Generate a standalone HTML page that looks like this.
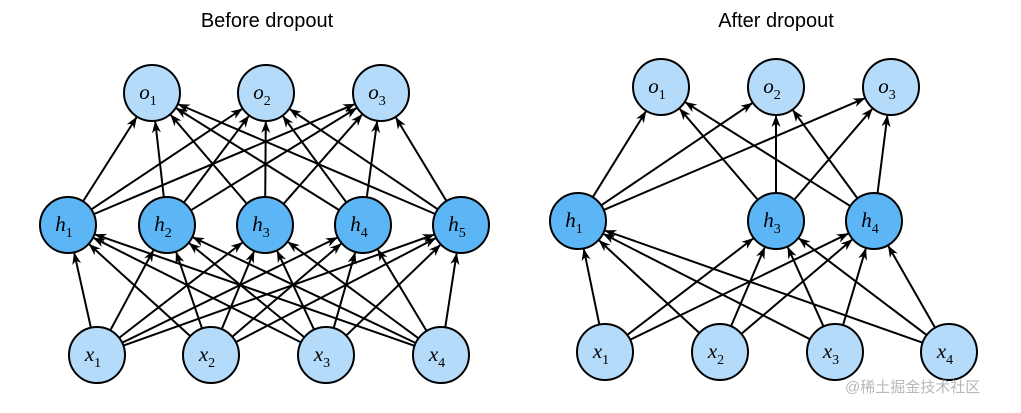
<!DOCTYPE html>
<html><head><meta charset="utf-8"><style>
html,body{margin:0;padding:0;background:#fff;}
svg{display:block;}
text{font-family:"Liberation Serif",serif;font-style:italic;}
.t{font-family:"Liberation Sans",sans-serif;font-style:normal;font-size:20px;}
</style></head><body>
<svg id="s" width="1021" height="413" xmlns="http://www.w3.org/2000/svg">
<defs><marker id="a" markerWidth="12" markerHeight="10" refX="11" refY="5" orient="auto" markerUnits="userSpaceOnUse"><path d="M0,0.5 L12,5 L0,9.5 L3.5,5 z" fill="#000"/></marker></defs>
<text class="t" x="267" y="27" text-anchor="middle">Before dropout</text>
<text class="t" x="776" y="27" text-anchor="middle">After dropout</text>
<g id="e"></g><g id="n"></g>
<text x="845" y="392" style="font-family:'Liberation Sans','Noto Sans CJK SC',sans-serif;font-style:normal;font-size:15px" fill="#b8b8b8">@稀土掘金技术社区</text>
</svg>
<script>
var R=28,NS="http://www.w3.org/2000/svg";
var e=document.getElementById('e'),n=document.getElementById('n');
function el(t,a,p){var x=document.createElementNS(NS,t);for(var k in a)x.setAttribute(k,a[k]);p.appendChild(x);return x;}
function arrow(a,b){var dx=b[0]-a[0],dy=b[1]-a[1],d=Math.hypot(dx,dy),ux=dx/d,uy=dy/d;
el('line',{x1:a[0]+ux*R,y1:a[1]+uy*R,x2:b[0]-ux*(R+1),y2:b[1]-uy*(R+1),stroke:'#000','stroke-width':2,'marker-end':'url(#a)'},e);}
function node(p,l,s,f){el('circle',{cx:p[0],cy:p[1],r:R,fill:f,stroke:'#000','stroke-width':2},n);
var t=el('text',{x:p[0]-4,y:p[1]+6,'text-anchor':'middle','font-size':21},n);t.textContent=l;
var u=el('tspan',{dy:6,'font-size':14,'font-style':'normal'},t);u.textContent=s;}
var L='#b5dbfa',H='#5cb5f4';
function draw(X,Hs,O,hl){
X.forEach(function(x){Hs.forEach(function(h){arrow(x,h);});});
Hs.forEach(function(h){O.forEach(function(o){arrow(h,o);});});
X.forEach(function(p,i){node(p,'x',i+1,L);});
Hs.forEach(function(p,i){node(p,'h',hl[i],H);});
O.forEach(function(p,i){node(p,'o',i+1,L);});}
draw([[97,355],[211,355],[326,355],[441,355]],[[68,225],[167,225],[265,225],[363,225],[461,225]],[[152,93],[266,93],[381,93]],[1,2,3,4,5]);
draw([[605,352],[720,352],[835,352],[949,352]],[[578,221],[776,221],[874,221]],[[661,87],[776,87],[891,87]],[1,3,4]);
</script>
</body></html>
